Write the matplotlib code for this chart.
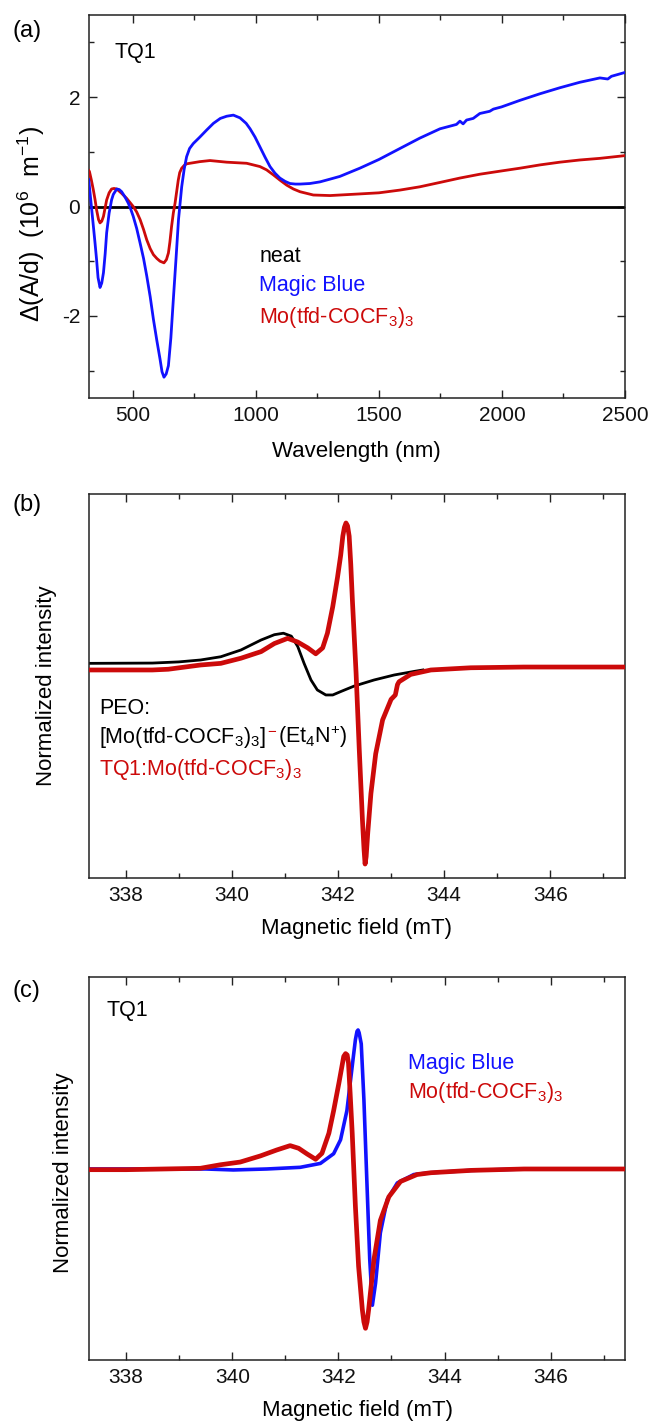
import matplotlib
matplotlib.use("Agg")
import matplotlib.pyplot as plt
from matplotlib.ticker import MultipleLocator, NullLocator

plt.rcParams['font.family'] = ['Liberation Sans', 'DejaVu Sans']
plt.rcParams['mathtext.fontset'] = 'custom'
plt.rcParams['mathtext.rm'] = 'Liberation Sans'
plt.rcParams['mathtext.it'] = 'Liberation Sans:italic'
plt.rcParams['mathtext.bf'] = 'Liberation Sans:bold'
plt.rcParams['mathtext.default'] = 'regular'
plt.rcParams['axes.unicode_minus'] = False

BLUE = '#1212ff'
RED = '#cc0a0a'
BLACK = '#000000'

# ---------------- (a) differential absorption of TQ1 films ----------------
wl_blue = [320, 323, 331, 339, 346, 352, 358, 366, 373, 380, 387, 393, 403, 413,
           420, 434, 444, 454, 468, 481, 491, 501, 515, 529, 543, 556, 570, 583,
           597, 610, 618, 626, 635, 644, 654, 664, 675, 685, 698, 708, 718, 730,
           745, 772, 800, 827, 855, 881, 908, 935, 960, 976, 996, 1016, 1037,
           1057, 1077, 1097, 1118, 1138, 1160, 1179, 1219, 1260, 1301, 1341, 1422,
           1500, 1585, 1666, 1748, 1815, 1829, 1842, 1856, 1883, 1910, 1950, 1965,
           1998, 2073, 2154, 2235, 2316, 2398, 2430, 2445, 2500]
da_blue = [0.49, 0.36, 0.0, -0.36, -0.68, -0.97, -1.30, -1.48, -1.40, -1.21, -0.86,
           -0.48, -0.12, 0.12, 0.22, 0.32, 0.31, 0.27, 0.17, 0.06, -0.05, -0.18,
           -0.40, -0.67, -0.95, -1.27, -1.65, -2.06, -2.45, -2.79, -3.02, -3.12,
           -3.06, -2.91, -2.40, -1.70, -0.95, -0.24, 0.36, 0.68, 0.91, 1.06, 1.15,
           1.27, 1.40, 1.52, 1.61, 1.65, 1.67, 1.62, 1.52, 1.42, 1.27, 1.09, 0.90,
           0.73, 0.61, 0.52, 0.46, 0.42, 0.41, 0.41, 0.42, 0.45, 0.50, 0.55, 0.70,
           0.86, 1.06, 1.25, 1.42, 1.50, 1.56, 1.51, 1.58, 1.61, 1.70, 1.74, 1.78,
           1.82, 1.94, 2.06, 2.17, 2.27, 2.35, 2.33, 2.38, 2.45]

wl_red = [320, 323, 331, 339, 346, 352, 360, 366, 373, 380, 393, 403, 413, 423,
          434, 444, 454, 474, 501, 515, 529, 543, 556, 570, 583, 597, 610, 626,
          636, 644, 650, 657, 664, 671, 684, 690, 698, 708, 718, 745, 772, 813,
          881, 962, 1016, 1043, 1070, 1098, 1125, 1152, 1179, 1233, 1301, 1422,
          1500, 1585, 1666, 1748, 1829, 1910, 1998, 2073, 2154, 2235, 2316, 2398,
          2500]
da_red = [0.66, 0.64, 0.48, 0.30, 0.12, -0.06, -0.24, -0.30, -0.27, -0.18, 0.12,
          0.25, 0.32, 0.33, 0.32, 0.28, 0.24, 0.15, 0.0, -0.10, -0.24, -0.42,
          -0.61, -0.77, -0.88, -0.95, -1.00, -1.03, -0.97, -0.85, -0.65, -0.36,
          -0.12, 0.06, 0.48, 0.62, 0.70, 0.75, 0.78, 0.80, 0.82, 0.84, 0.81,
          0.79, 0.73, 0.67, 0.58, 0.48, 0.39, 0.32, 0.27, 0.21, 0.20, 0.23, 0.25,
          0.30, 0.36, 0.44, 0.52, 0.59, 0.65, 0.70, 0.76, 0.81, 0.85, 0.88, 0.93]

wl_neat = [320, 2500]
da_neat = [0.0, 0.0]

# ---------------- (b) EPR of Mo(tfd-COCF3)3 ----------------
b_red_field = [337.3, 338.0, 338.5, 338.8, 339.41, 339.79, 340.17, 340.55, 340.80,
               341.05, 341.24, 341.43, 341.58, 341.71, 341.80, 341.90, 341.99,
               342.05, 342.09, 342.12, 342.15, 342.18, 342.21, 342.24, 342.27,
               342.34, 342.40, 342.46, 342.49, 342.51, 342.53, 342.56, 342.62,
               342.71, 342.84, 343.0, 343.08, 343.12, 343.15, 343.37, 343.75,
               344.5, 345.5, 346.5, 347.4]
b_red_int = [0.0, 0.0, 0.0, 0.005, 0.034, 0.045, 0.08, 0.125, 0.18, 0.215, 0.19,
             0.15, 0.11, 0.15, 0.25, 0.43, 0.63, 0.78, 0.91, 0.97, 1.0, 0.98, 0.91,
             0.72, 0.48, -0.02, -0.54, -1.02, -1.22, -1.32, -1.27, -1.11, -0.84,
             -0.57, -0.34, -0.20, -0.17, -0.10, -0.08, -0.03, 0.0, 0.015, 0.02,
             0.02, 0.02]

b_blk_field = [337.3, 338.5, 339.0, 339.41, 339.79, 340.17, 340.55, 340.80, 340.97,
               341.12, 341.24, 341.36, 341.49, 341.61, 341.77, 341.90, 342.05,
               342.30, 342.68, 343.06, 343.43, 343.6]
b_blk_int = [0.045, 0.047, 0.055, 0.068, 0.09, 0.136, 0.204, 0.24, 0.25, 0.23,
             0.16, 0.045, -0.068, -0.136, -0.17, -0.17, -0.147, -0.11, -0.068,
             -0.034, -0.01, 0.0]

# ---------------- (c) EPR of doped TQ1 ----------------
c_blue_field = [337.3, 338.5, 339.5, 340.02, 340.65, 341.28, 341.66, 341.91, 342.04,
                342.16, 342.26, 342.32, 342.35, 342.37, 342.39, 342.43, 342.48,
                342.54, 342.59, 342.64, 342.70, 342.79, 342.92, 343.11, 343.42,
                343.74, 344.5, 345.5, 346.5, 347.4]
c_blue_int = [0.0, 0.0, 0.0, -0.007, 0.0, 0.012, 0.04, 0.11, 0.21, 0.42, 0.74,
              0.93, 0.99, 1.0, 0.98, 0.90, 0.50, -0.13, -0.65, -0.98, -0.82, -0.46,
              -0.22, -0.10, -0.04, -0.027, -0.01, 0.0, 0.0, 0.0]

c_red_field = [337.3, 338.0, 338.7, 339.40, 339.77, 340.15, 340.53, 340.84, 341.09,
               341.25, 341.41, 341.57, 341.69, 341.82, 341.91, 342.01, 342.10,
               342.135, 342.165, 342.19, 342.22, 342.26, 342.32, 342.38, 342.45,
               342.48, 342.51, 342.54, 342.57, 342.67, 342.79, 342.95, 343.17,
               343.48, 343.74, 344.5, 345.5, 346.5, 347.4]
c_red_int = [-0.005, -0.005, 0.0, 0.005, 0.03, 0.05, 0.094, 0.137, 0.168, 0.149,
             0.108, 0.07, 0.113, 0.257, 0.42, 0.62, 0.81, 0.83, 0.82, 0.76, 0.55,
             0.257, -0.27, -0.70, -1.01, -1.10, -1.146, -1.10, -1.01, -0.65, -0.37,
             -0.20, -0.09, -0.04, -0.027, -0.01, 0.0, 0.0, 0.0]

W, H = 651, 1426
fig = plt.figure(figsize=(W / 100, H / 100), dpi=100)


def axes_px(left, top, right, bottom):
    return fig.add_axes([left / W, 1 - bottom / H, (right - left) / W, (bottom - top) / H])


def style(ax, yticks=True):
    for s in ax.spines.values():
        s.set_linewidth(1.1)
        s.set_color('#222222')
    ax.tick_params(which='both', direction='in', top=True, right=yticks, left=yticks,
                   labelsize=15, pad=6, colors='#222222', labelcolor='#111111')
    ax.tick_params(which='major', length=6, width=1.0)
    ax.tick_params(which='minor', length=3.5, width=1.0)


TXT = 15.5

# ----- panel (a)
ax1 = axes_px(88.7, 15, 625, 398)
ax1.plot(wl_neat, da_neat, color=BLACK, lw=2.0, zorder=2)
ax1.plot(wl_red, da_red, color=RED, lw=2.0, zorder=3)
ax1.plot(wl_blue, da_blue, color=BLUE, lw=2.0, zorder=4)
ax1.set_xlim(320, 2500)
ax1.set_ylim(-3.5, 3.5)
ax1.xaxis.set_major_locator(MultipleLocator(500))
ax1.xaxis.set_minor_locator(MultipleLocator(250))
ax1.yaxis.set_major_locator(MultipleLocator(2))
ax1.yaxis.set_minor_locator(MultipleLocator(1))
style(ax1)
ax1.set_xlabel('Wavelength (nm)', fontsize=16, labelpad=11)
ax1.text(-0.107, 0.455, 'Δ(A/d)  (10$^6$  m$^{-1}$)', transform=ax1.transAxes,
         rotation=90, ha='center', va='center', fontsize=18)
ax1.text(0.049, 0.889, 'TQ1', transform=ax1.transAxes, fontsize=TXT, va='baseline')
ax1.text(0.318, 0.356, 'neat', transform=ax1.transAxes, fontsize=TXT, va='baseline', color=BLACK)
ax1.text(0.318, 0.280, 'Magic Blue', transform=ax1.transAxes, fontsize=TXT, va='baseline', color=BLUE)
ax1.text(0.318, 0.195, 'Mo(tfd-COCF$_3$)$_3$', transform=ax1.transAxes, fontsize=TXT,
         va='baseline', color=RED)

# ----- panel (b)
ax2 = axes_px(88.7, 494, 624.5, 878)
ax2.plot(b_blk_field, b_blk_int, color=BLACK, lw=2.0, zorder=2)
ax2.plot(b_red_field, b_red_int, color=RED, lw=3.4, zorder=3)
ax2.set_xlim(337.3, 347.4)
ax2.set_ylim(-1.415, 1.197)
ax2.xaxis.set_major_locator(MultipleLocator(2))
ax2.xaxis.set_minor_locator(MultipleLocator(1))
ax2.yaxis.set_major_locator(NullLocator())
style(ax2, yticks=False)
ax2.set_xlabel('Magnetic field (mT)', fontsize=16, labelpad=9)
ax2.text(-0.078, 0.5, 'Normalized intensity', transform=ax2.transAxes,
         rotation=90, ha='center', va='center', fontsize=16)
ax2.text(0.019, 0.427, 'PEO:', transform=ax2.transAxes, fontsize=TXT, va='baseline')
t_pre = ax2.text(0.019, 0.351, '[Mo(tfd-COCF$_3$)$_3$]', transform=ax2.transAxes,
                 fontsize=TXT, va='baseline')
ax2.text(0.019, 0.268, 'TQ1:Mo(tfd-COCF$_3$)$_3$', transform=ax2.transAxes, fontsize=TXT,
         va='baseline', color=RED)

# ----- panel (c)
ax3 = axes_px(89, 977, 625, 1360)
ax3.plot(c_blue_field, c_blue_int, color=BLUE, lw=2.6, zorder=2)
ax3.plot(c_red_field, c_red_int, color=RED, lw=3.4, zorder=3)
ax3.set_xlim(337.3, 347.4)
ax3.set_ylim(-1.374, 1.381)
ax3.xaxis.set_major_locator(MultipleLocator(2))
ax3.xaxis.set_minor_locator(MultipleLocator(1))
ax3.yaxis.set_major_locator(NullLocator())
style(ax3, yticks=False)
ax3.set_xlabel('Magnetic field (mT)', fontsize=16, labelpad=9)
ax3.text(-0.0485, 0.489, 'Normalized intensity', transform=ax3.transAxes,
         rotation=90, ha='center', va='center', fontsize=16)
ax3.text(0.033, 0.897, 'TQ1', transform=ax3.transAxes, fontsize=TXT, va='baseline')
ax3.text(0.595, 0.760, 'Magic Blue', transform=ax3.transAxes, fontsize=TXT, va='baseline', color=BLUE)
ax3.text(0.595, 0.685, 'Mo(tfd-COCF$_3$)$_3$', transform=ax3.transAxes, fontsize=TXT,
         va='baseline', color=RED)

# panel letters
for lab, yc in (('(a)', 31), ('(b)', 505), ('(c)', 991)):
    fig.text(12 / W, 1 - yc / H, lab, fontsize=17, ha='left', va='center')

# anion charge in red, followed by the counter-ion, placed after the bracket
fig.canvas.draw()
renderer = fig.canvas.get_renderer()
bb = t_pre.get_window_extent(renderer)
x_end = ax2.transAxes.inverted().transform((bb.x1, bb.y0))[0]
t_chg = ax2.text(x_end + 0.002, 0.351, '$^{-}$', transform=ax2.transAxes, fontsize=TXT,
                 va='baseline', color=RED)
fig.canvas.draw()
bb2 = t_chg.get_window_extent(renderer)
x_end2 = ax2.transAxes.inverted().transform((bb2.x1, bb2.y0))[0]
ax2.text(x_end2 + 0.002, 0.351, '(Et$_4$N$^{+}$)', transform=ax2.transAxes, fontsize=TXT,
         va='baseline')

fig.savefig('out.png', dpi=100)
